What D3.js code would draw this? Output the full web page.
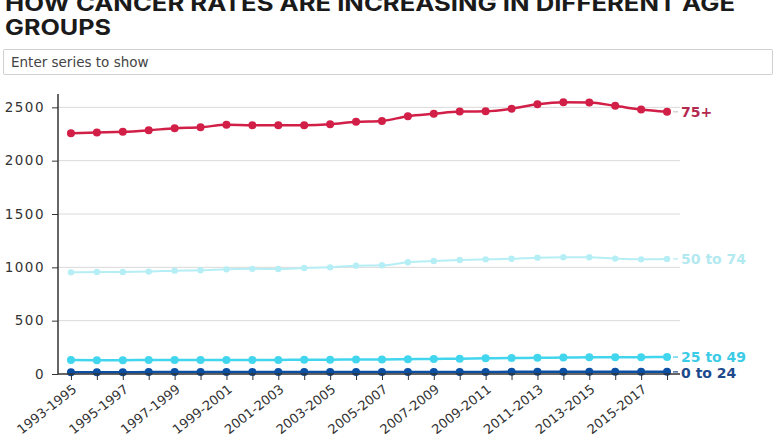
<!DOCTYPE html>
<html>
<head>
<meta charset="utf-8">
<script src="https://cdn.jsdelivr.net/npm/d3@7"></script>
<style>
  html, body { margin: 0; padding: 0; background: #fff; overflow: hidden; }
  body { width: 779px; height: 439px; position: relative; font-family: "DejaVu Sans", sans-serif; }
  .search { position: absolute; left: 3px; top: 49px; width: 770px; height: 26px; border: 1px solid #d0d0d0; border-radius: 2px; box-sizing: border-box; font-size: 13.5px; color: #444; padding-left: 7px; line-height: 25px; background: #fff; font-family: "DejaVu Sans", sans-serif; }
  svg { position: absolute; left: 0; top: 0; }
</style>
</head>
<body>
<div class="search">Enter series to show</div>
<svg id="chart" width="779" height="439"></svg>
<script>
const titleLines = ["HOW CANCER RATES ARE INCREASING IN DIFFERENT AGE", "GROUPS"];
const categories = ["1993-1995","1994-1996","1995-1997","1996-1998","1997-1999","1998-2000","1999-2001","2000-2002","2001-2003","2002-2004","2003-2005","2004-2006","2005-2007","2006-2008","2007-2009","2008-2010","2009-2011","2010-2012","2011-2013","2012-2014","2013-2015","2014-2016","2015-2017","2016-2018"];
const seriesNames = ["75+","50 to 74","25 to 49","0 to 24"];
const age75plus = [2257,2264,2270,2285,2304,2313,2336,2332,2332,2332,2341,2364,2373,2417,2439,2460,2463,2487,2529,2548,2545,2514,2479,2458];
const age50to74 = [953,957,957,960,969,972,981,986,985,994,1000,1016,1019,1047,1060,1069,1075,1080,1091,1094,1094,1082,1075,1079];
const age25to49 = [131,130,130,131,131,131,131,131,132,133,134,136,137,139,141,144,147,150,152,154,156,157,158,159];
const age0to24 = [17,17,17,18,18,18,18,18,18,18,18,19,19,19,19,19,19,20,20,20,20,20,20,20];
const yTicks = [0,500,1000,1500,2000,2500];
const lineColors = ["#d21f47","#b6eef5","#42d6ee","#0b4fa3"];
const labelColors = ["#b3294f","#b3e9f0","#3ccbe6","#1d4a8c"];

const seriesValues = [age75plus, age50to74, age25to49, age0to24];
const svg = d3.select("#chart");
const mLeft = 58, mRight = 680, mTop = 94, mBottom = 374;
const font = "'DejaVu Sans', sans-serif";

// title
const titleWidths = [730, 106];
titleLines.forEach((t, i) => {
  svg.append("text").attr("x", 5).attr("y", 11 + i * 23.5)
    .attr("font-size", 21).attr("font-weight", 700).attr("fill", "#1a1a1a")
    .attr("font-family", "Inter, sans-serif")
    .attr("textLength", titleWidths[i]).attr("lengthAdjust", "spacingAndGlyphs")
    .text(t);
});

const x = d3.scalePoint().domain(categories).range([mLeft, mRight]).padding(0.5);
const y = d3.scaleLinear().domain([0, 2625]).range([mBottom, mTop]);

// gridlines
svg.append("g").selectAll("line").data(yTicks.filter(d => d > 0)).join("line")
  .attr("x1", mLeft).attr("x2", mRight)
  .attr("y1", d => y(d)).attr("y2", d => y(d))
  .attr("stroke", "#d9d9d9").attr("stroke-width", 1);

// y axis
const yAxis = svg.append("g").attr("transform", `translate(${mLeft},0)`)
  .call(d3.axisLeft(y).tickValues(yTicks).tickFormat(d3.format("d")).tickSize(6).tickPadding(7));
yAxis.select(".domain").attr("stroke", "#333").attr("stroke-width", 1.5).attr("d", `M0,${mTop}V${mBottom}`);
yAxis.selectAll(".tick line").attr("stroke", "#333");
yAxis.selectAll("text").attr("font-size", 13.5).attr("fill", "#333").attr("font-family", font)
  .attr("letter-spacing", 1.5);

// series
const line = d3.line().x((d, i) => x(categories[i])).y(d => y(d)).curve(d3.curveMonotoneX);
const widths = [2.5, 2, 2.5, 2.5];
const radii = [4, 3.2, 4, 4];
seriesValues.forEach((vals, s) => {
  const g = svg.append("g");
  g.append("path").datum(vals).attr("d", line).attr("fill", "none")
    .attr("stroke", lineColors[s]).attr("stroke-width", widths[s]);
  g.selectAll("circle").data(vals).join("circle")
    .attr("cx", (d, i) => x(categories[i])).attr("cy", d => y(d))
    .attr("r", radii[s]).attr("fill", lineColors[s]);
  const last = vals[vals.length - 1];
  const lx = x(categories[categories.length - 1]);
  g.append("line").attr("x1", lx + 6).attr("x2", lx + 11)
    .attr("y1", y(last)).attr("y2", y(last))
    .attr("stroke", s === 0 ? "#c9c9c9" : labelColors[s]).attr("stroke-width", 1.2);
  g.append("text").attr("x", lx + 14).attr("y", y(last) + (s === 3 ? 1 : 0)).attr("dy", "0.36em")
    .attr("font-size", 14).attr("font-weight", 700).attr("fill", labelColors[s])
    .attr("font-family", font)
    .text(seriesNames[s]);
});

// x axis
const xAxis = svg.append("g").attr("transform", `translate(0,${mBottom})`)
  .call(d3.axisBottom(x).tickSize(6).tickFormat((d, i) => i % 2 === 0 ? d : ""));
xAxis.select(".domain").attr("stroke", "#333").attr("stroke-width", 1.5).attr("d", `M${mLeft},0H${mRight}`);
xAxis.selectAll(".tick line").attr("stroke", "#333");
xAxis.selectAll("text").attr("font-size", 13).attr("fill", "#333").attr("font-family", font)
  .attr("y", 0).attr("x", 0).attr("dy", 0)
  .attr("text-anchor", "end")
  .attr("transform", "translate(6,17) rotate(-38)");
</script>
</body>
</html>
